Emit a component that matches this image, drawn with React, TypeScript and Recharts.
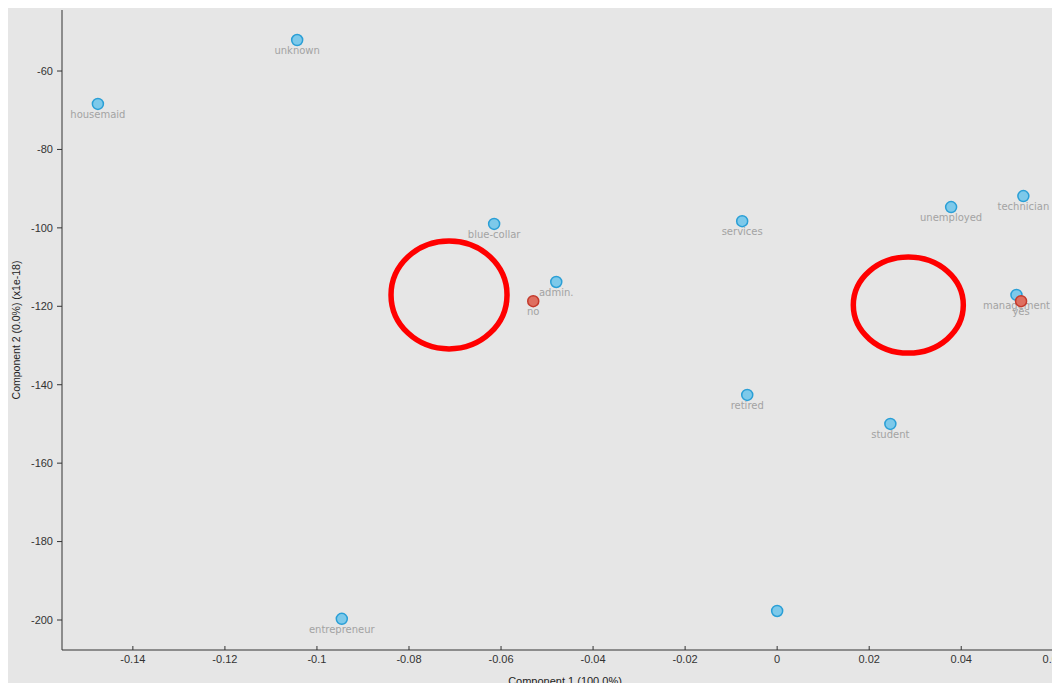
import { ScatterChart, Scatter, XAxis, YAxis, ReferenceDot } from 'recharts';

// job categories (blue) and target classes (red)
const jobNames = ['unknown', 'housemaid', 'blue-collar', 'admin.', 'services', 'unemployed', 'technician', 'management', 'retired', 'student', 'entrepreneur', ''];
const jobX = [-0.1043, -0.1476, -0.0615, -0.048, -0.0076, 0.0378, 0.0535, 0.052, -0.0065, 0.0246, -0.0946, 0.0];
const jobY = [-52.1, -68.4, -99.0, -113.8, -98.3, -94.7, -91.9, -117.1, -142.6, -150.0, -199.7, -197.7];

const classNames = ['no', 'yes'];
const classX = [-0.053, 0.053];
const classY = [-118.7, -118.7];

const xTicks = [-0.14, -0.12, -0.1, -0.08, -0.06, -0.04, -0.02, 0, 0.02, 0.04, 0.06];
const yTicks = [-60, -80, -100, -120, -140, -160, -180, -200];

// hand drawn red circles
const marks = [
    { x: -0.0713, y: -117.1 },
    { x: 0.0285, y: -119.7 },
];

const jobs = jobNames.map((name, i) => ({ name, x: jobX[i], y: jobY[i] }));
const classes = classNames.map((name, i) => ({ name, x: classX[i], y: classY[i] }));

const makeDot = (fill: string, stroke: string) => (props: any) => {
    const { cx, cy, payload } = props;
    return (
        <g>
            <circle cx={cx} cy={cy} r={5.5} fill={fill} stroke={stroke} strokeWidth={1.5} />
            {payload.name ? (
                <text x={cx} y={cy + 14} textAnchor="middle" fontSize={10} fill="#a3a3a3" fontFamily="'DejaVu Sans', sans-serif">
                    {payload.name}
                </text>
            ) : null}
        </g>
    );
};

const XTick = ({ x, y, payload }: any) => (
    <g>
        <line x1={x} x2={x} y1={y - 4} y2={y} stroke="#333" />
        <text x={x} y={y + 13} textAnchor="middle" fontSize={11} fill="#333" fontFamily="'Liberation Sans Narrow', 'Liberation Sans', sans-serif">
            {payload.value}
        </text>
    </g>
);

const Ring = ({ cx, cy }: any) => (
    <ellipse cx={cx} cy={cy} rx={58} ry={54} fill="none" stroke="#ff0000" strokeWidth={5.5} />
);
const Ring2 = ({ cx, cy }: any) => (
    <ellipse cx={cx} cy={cy} rx={55} ry={48} fill="none" stroke="#ff0000" strokeWidth={5.5} />
);

export default function App() {
    return (
        <div style={{ width: 1052, height: 675, background: '#e6e6e6', overflow: 'hidden' }}>
            <ScatterChart width={1060} height={675} margin={{ top: 2, right: 0, bottom: 0, left: 0 }}>
                <XAxis
                    type="number"
                    dataKey="x"
                    domain={[-0.1554, 0.0632]}
                    ticks={xTicks}
                    tick={<XTick />}
                    tickLine={false}
                    tickSize={0}
                    tickMargin={0}
                    interval={0}
                    allowDataOverflow
                    stroke="#333"
                    height={33}
                    label={{ value: 'Component 1 (100.0%)', position: 'insideBottom', offset: 0, dy: 2, fontSize: 11, fill: '#222', fontFamily: "'Liberation Sans Narrow', 'Liberation Sans', sans-serif" }}
                />
                <YAxis
                    type="number"
                    dataKey="y"
                    domain={[-207.65, -44.44]}
                    ticks={yTicks}
                    interval={0}
                    allowDataOverflow
                    width={54}
                    tickSize={5}
                    tickMargin={4}
                    stroke="#333"
                    tick={{ fontSize: 11, fill: '#333', fontFamily: "'Liberation Sans', sans-serif" }}
                    label={{ value: 'Component 2 (0.0%) (x1e-18)', angle: -90, position: 'insideLeft', offset: 0, dx: 8, fontSize: 10.5, fill: '#222', fontFamily: "'Liberation Sans', sans-serif", style: { textAnchor: 'middle' } }}
                />
                <Scatter data={jobs} shape={makeDot('#7dc9ea', '#2a9fd6')} isAnimationActive={false} />
                <Scatter data={classes} shape={makeDot('#df6f60', '#c43a2c')} isAnimationActive={false} />
                <ReferenceDot x={marks[0].x} y={marks[0].y} shape={<Ring />} />
                <ReferenceDot x={marks[1].x} y={marks[1].y} shape={<Ring2 />} />
            </ScatterChart>
        </div>
    );
}
